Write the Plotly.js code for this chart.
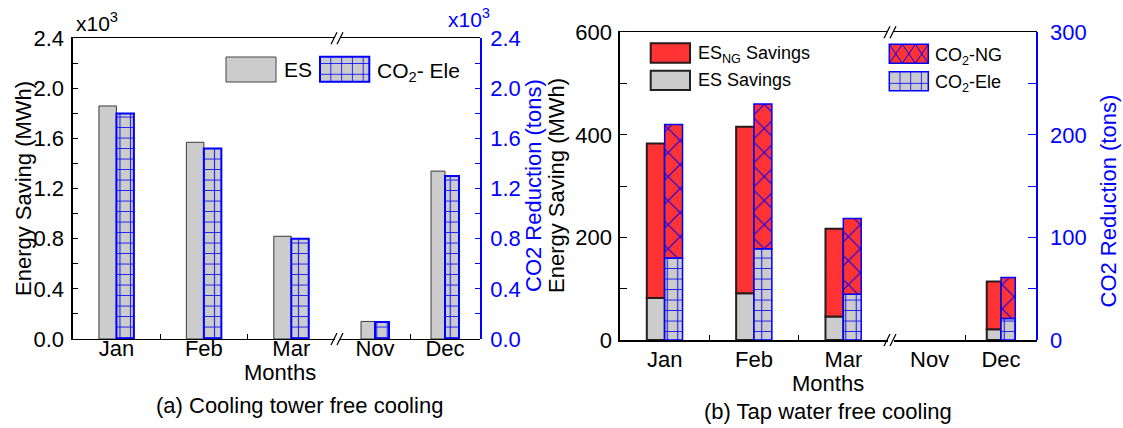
<!DOCTYPE html>
<html><head><meta charset="utf-8">
<script src="https://cdn.plot.ly/plotly-3.0.1.min.js"></script>
<style>html,body{margin:0;padding:0;background:#fff}#chart{width:1123px;height:428px}</style>
</head><body><div id="chart"></div>
<script>
// ---------------- data ----------------
// (a) Cooling tower free cooling  (values in x10^3)
const monthsA   = ['Jan', 'Feb', 'Mar', 'Nov', 'Dec'];
const esA       = [1.86, 1.57, 0.82, 0.14, 1.34];    // ES, x10^3 MWh
const co2EleA   = [1.80, 1.52, 0.80, 0.135, 1.30];   // CO2-Ele, x10^3 tons
// (b) Tap water free cooling
const monthsB   = ['Jan', 'Feb', 'Mar', 'Nov', 'Dec'];
const esB       = [82, 91, 46, null, 21];             // ES Savings, MWh
const esNgB     = [301, 325, 171, null, 93];          // ES_NG Savings, MWh (stacked on ES)
const co2EleB   = [80, 89, 44.5, null, 21];           // CO2-Ele, tons
const co2NgB    = [130, 141, 74, null, 40];           // CO2-NG, tons (stacked on CO2-Ele)
// labels
const legendA   = ['ES', 'CO<sub>2</sub>- Ele'];
const legendB   = ['ES<sub>NG</sub> Savings', 'ES Savings', 'CO<sub>2</sub>-NG', 'CO<sub>2</sub>-Ele'];
const titlesA   = {y: 'Energy Saving (MWh)', y2: 'CO2 Reduction (tons)', x: 'Months', cap: '(a) Cooling tower free cooling'};
const titlesB   = {y: 'Energy Saving (MWh)', y2: 'CO2 Reduction (tons)', x: 'Months', cap: '(b) Tap water free cooling'};

// ---------------- helpers ----------------
const W = 1123, H = 428;
const px = v => v / W, py = v => 1 - v / H;
const FONT = 'Liberation Sans, Arial, Helvetica, sans-serif';
const BLUE = '#0000ff', GRAY = '#cccccc', RED = '#ff3333', DARK = '#2a1a1a';
const SEG1 = [0, 3], SEG2 = [3, 5];
const sl = (a, s) => a.slice(s[0], s[1]);

const gridPat = {shape: '+', fgcolor: BLUE, bgcolor: GRAY, size: 10.5, solidity: 0.2, fgopacity: 0.85};
const xPat = {shape: 'x', fgcolor: BLUE, bgcolor: RED, size: 17, solidity: 0.12, fgopacity: 1};

function bar(x, y, base, xa, ya, offset, marker) {
  const t = {type: 'bar', x: x, y: y, xaxis: xa, yaxis: ya, offset: offset, width: 0.2,
             marker: marker, showlegend: false, hoverinfo: 'x+y'};
  if (base) t.base = base;
  return t;
}

const traces = [];
// chart (a)
[[SEG1, 'x'], [SEG2, 'x2']].forEach(([s, xa]) => {
  traces.push(bar(sl(monthsA, s), sl(esA, s), null, xa, 'y', -0.2,
    {color: GRAY, line: {color: '#3a3a3a', width: 1}}));
  traces.push(bar(sl(monthsA, s), sl(co2EleA, s), null, xa, 'y2', 0,
    {color: GRAY, pattern: gridPat, line: {color: BLUE, width: 2}}));
});
// chart (b)
[[SEG1, 'x3'], [SEG2, 'x4']].forEach(([s, xa]) => {
  traces.push(bar(sl(monthsB, s), sl(esB, s), null, xa, 'y3', -0.2,
    {color: GRAY, line: {color: '#222', width: 2}}));
  traces.push(bar(sl(monthsB, s), sl(esNgB, s), sl(esB, s), xa, 'y3', -0.2,
    {color: RED, line: {color: DARK, width: 2}}));
  traces.push(bar(sl(monthsB, s), sl(co2EleB, s), null, xa, 'y4', 0,
    {color: GRAY, pattern: gridPat, line: {color: BLUE, width: 1.5}}));
  traces.push(bar(sl(monthsB, s), sl(co2NgB, s), sl(co2EleB, s), xa, 'y4', 0,
    {color: RED, pattern: xPat, line: {color: BLUE, width: 1.5}}));
});

// ---------------- axes ----------------
function xAx(dom, anchor, cats, lw, so) {
  return {type: 'category', domain: dom, anchor: anchor, range: [-0.5, cats.length - 0.5],
    categoryorder: 'array', categoryarray: cats, showgrid: false, zeroline: false,
    showline: true, linecolor: '#000', linewidth: lw, mirror: true,
    ticks: 'inside', tickson: 'boundaries', ticklen: 5, tickcolor: '#000', tickwidth: 1,
    tickfont: {family: FONT, size: 22, color: '#000'}, ticklabelstandoff: so, fixedrange: true};
}
function yAx(dom, rng, dt, mdt, color, lw, tl, fmt) {
  return {domain: dom, range: rng, dtick: dt, tick0: 0, tickformat: fmt, showgrid: false, zeroline: false,
    showline: true, linecolor: color, linewidth: lw, ticks: 'inside', ticklen: tl, tickwidth: 1, tickcolor: color,
    minor: {dtick: mdt, ticks: 'inside', ticklen: tl, tickcolor: color, tickwidth: 1, showgrid: false},
    tickfont: {family: FONT, size: 22, color: color}, fixedrange: true};
}
const domYA = [py(339), py(38.3)], domYB = [py(340), py(32.3)];

const layout = {
  width: W, height: H, margin: {l: 0, r: 0, t: 0, b: 0},
  paper_bgcolor: '#fff', plot_bgcolor: 'rgba(0,0,0,0)', barmode: 'overlay', showlegend: false,
  font: {family: FONT, size: 22, color: '#000'},
  xaxis:  xAx([px(72.7), px(335)], 'y', sl(monthsA, SEG1), 1.3, -11),
  xaxis2: xAx([px(340), px(480)], 'y', sl(monthsA, SEG2), 1.3, -11),
  xaxis3: xAx([px(620), px(888)], 'y3', sl(monthsB, SEG1), 1.6, -1),
  xaxis4: xAx([px(894), px(1036.7)], 'y3', sl(monthsB, SEG2), 1.6, -1),
  yaxis:  Object.assign(yAx(domYA, [0, 2.4], 0.4, 0.2, '#000', 1.3, 5, '.1f'), {anchor: 'x', side: 'left', ticklabelstandoff: 3}),
  yaxis2: Object.assign(yAx(domYA, [0, 2.4], 0.4, 0.2, BLUE, 1.8, 5, '.1f'), {overlaying: 'y', side: 'right', anchor: 'free', position: px(480), ticklabelstandoff: 4}),
  yaxis3: Object.assign(yAx(domYB, [0, 600], 200, 100, '#000', 1.6, 7, 'd'), {anchor: 'x3', side: 'left', ticklabelstandoff: 2}),
  yaxis4: Object.assign(yAx(domYB, [0, 300], 100, 50, BLUE, 2, 8, 'd'), {overlaying: 'y3', side: 'right', anchor: 'free', position: px(1036.7), ticklabelstandoff: 8}),
  annotations: [], shapes: []
};

// ---------------- text ----------------
function ann(text, x, y, opts) {
  layout.annotations.push(Object.assign({text: text, x: px(x), y: py(y), xref: 'paper', yref: 'paper',
    showarrow: false, xanchor: 'center', yanchor: 'middle', font: {family: FONT, size: 22, color: '#000'}}, opts || {}));
}
ann('x10<sup>3</sup>', 74, 22, {xanchor: 'left', font: {family: FONT, size: 21, color: '#000'}});
ann('x10<sup>3</sup>', 446, 18, {xanchor: 'left', font: {family: FONT, size: 21, color: BLUE}});
ann(titlesA.y, 23, 189, {textangle: -90});
ann(titlesA.y2, 533, 186, {textangle: -90, font: {family: FONT, size: 22, color: BLUE}});
ann(titlesB.y, 556, 186, {textangle: -90});
ann(titlesB.y2, 1107.5, 201, {textangle: -90, font: {family: FONT, size: 22, color: BLUE}});
ann(titlesA.x, 280, 372);
ann(titlesB.x, 828, 383);
ann(titlesA.cap, 299, 405);
ann(titlesB.cap, 828, 411);
// legends (text)
ann(legendA[0], 282, 70, {xanchor: 'left', font: {family: FONT, size: 21, color: '#000'}});
ann(legendA[1], 375, 72, {xanchor: 'left', font: {family: FONT, size: 21, color: '#000'}});
ann(legendB[0], 696, 55, {xanchor: 'left', font: {family: FONT, size: 18, color: '#000'}});
ann(legendB[1], 696, 80.5, {xanchor: 'left', font: {family: FONT, size: 18, color: '#000'}});
ann(legendB[2], 933, 56, {xanchor: 'left', font: {family: FONT, size: 18, color: '#000'}});
ann(legendB[3], 933, 83, {xanchor: 'left', font: {family: FONT, size: 18, color: '#000'}});

// ---------------- legend swatches & axis breaks (decoration) ----------------
function rect(x0, y0, x1, y1, fill, lc, lw) {
  layout.shapes.push({type: 'rect', xref: 'paper', yref: 'paper', x0: px(x0), x1: px(x1), y0: py(y0), y1: py(y1),
    fillcolor: fill, line: {color: lc, width: lw}, layer: 'above'});
}
function seg(x0, y0, x1, y1, c, w) {
  layout.shapes.push({type: 'line', xref: 'paper', yref: 'paper', x0: px(x0), x1: px(x1), y0: py(y0), y1: py(y1),
    line: {color: c, width: w}, layer: 'above'});
}
function gridSwatch(x0, y0, x1, y1, step, lw) {
  rect(x0, y0, x1, y1, GRAY, BLUE, lw);
  for (let x = x0 + step; x < x1 - 2; x += step) seg(x, y0, x, y1, 'rgba(0,0,255,0.8)', 1);
  for (let y = y1 - step / 2 - 2; y > y0 + 2; y -= step) seg(x0, y, x1, y, 'rgba(0,0,255,0.8)', 1);
}
function crossSwatch(x0, y0, x1, y1, n, lw) {
  rect(x0, y0, x1, y1, RED, BLUE, lw);
  const cw = (x1 - x0) / n;
  for (let i = 0; i < n; i++) {
    seg(x0 + cw * i, y0, x0 + cw * (i + 1), y1, BLUE, 1);
    seg(x0 + cw * (i + 1), y0, x0 + cw * i, y1, BLUE, 1);
  }
}
rect(226, 57, 276, 82, GRAY, '#444', 1);
gridSwatch(320, 56.7, 369.3, 81.7, 10.8, 2);
rect(650.7, 43.3, 690, 62.7, RED, DARK, 2);
rect(650.7, 70.7, 690, 90, GRAY, '#222', 2);
crossSwatch(889.3, 44.3, 928.3, 63.3, 3, 1.5);
gridSwatch(889.3, 71.7, 928.3, 90.7, 10.7, 1.5);

function brk(xc, yc) {
  seg(xc - 7, yc + 6, xc - 1, yc - 6, '#000', 1.2);
  seg(xc - 1, yc + 6, xc + 5, yc - 6, '#000', 1.2);
}
brk(338, 38.3); brk(338, 339);
brk(891, 32.3); brk(891, 340);

Plotly.newPlot('chart', traces, layout, {displayModeBar: false, staticPlot: true});
</script></body></html>
